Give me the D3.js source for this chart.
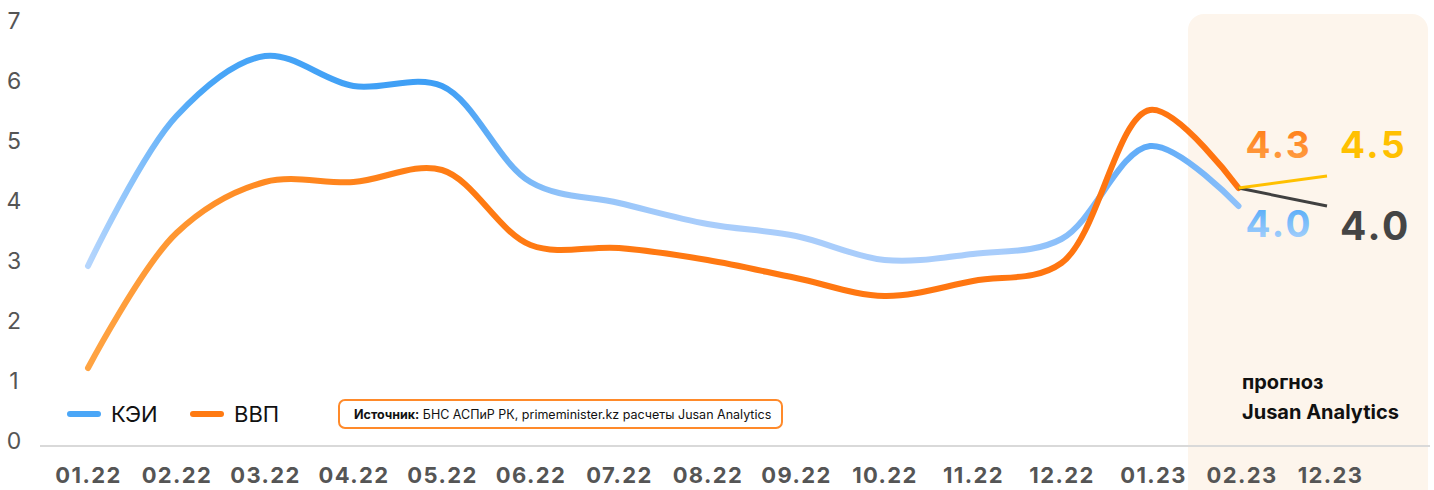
<!DOCTYPE html>
<html>
<head>
<meta charset="utf-8">
<script src="https://cdn.jsdelivr.net/npm/d3@7"></script>
<style>
  body { margin: 0; background: #fff; }
  svg { display: block; font-family: Inter, "Noto Sans", sans-serif; }
</style>
</head>
<body>
<svg id="chart" width="1434" height="490"></svg>
<script>
const months = ["01.22","02.22","03.22","04.22","05.22","06.22","07.22","08.22","09.22","10.22","11.22","12.22","01.23","02.23","12.23"];
const kei = [3.0, 5.5, 6.5, 6.0, 6.0, 4.4, 4.05, 3.7, 3.5, 3.1, 3.2, 3.45, 5.0, 4.0];
const gdp = [1.3, 3.55, 4.4, 4.4, 4.6, 3.35, 3.3, 3.1, 2.8, 2.5, 2.75, 3.05, 5.6, 4.3];
const forecastUp = [4.3, 4.5];   // 02.23 -> 12.23
const forecastDown = [4.3, 4.0];
const yTicks = [0, 1, 2, 3, 4, 5, 6, 7];

const width = 1434, height = 490;
const svg = d3.select("#chart");

const x = d3.scalePoint().domain(months).range([88, 1327]);
const y = d3.scaleLinear().domain([0, 7]).range([446, 26]);

const defs = svg.append("defs");
function grad(id, stops) {
  const g = defs.append("linearGradient").attr("id", id)
    .attr("gradientUnits", "userSpaceOnUse")
    .attr("x1", 88).attr("x2", 1238).attr("y1", 0).attr("y2", 0);
  stops.forEach(s => g.append("stop").attr("offset", (s[0] - 88) / 1150).attr("stop-color", s[1]));
}
grad("blueGrad", [[88, "#b6d6fd"], [200, "#4aa6f7"], [440, "#3d9ef5"], [560, "#90c2f9"], [700, "#a9cdfb"], [1000, "#a9cdfb"], [1150, "#5caaf8"], [1238, "#8ec1fa"]]);
grad("orangeGrad", [[88, "#ffa443"], [260, "#ff8a22"], [480, "#ff7a12"], [1238, "#ff7410"]]);

const lab = defs.append("linearGradient").attr("id", "labOrange").attr("x1", 0).attr("x2", 0).attr("y1", 0).attr("y2", 1);
lab.append("stop").attr("offset", 0).attr("stop-color", "#ff7a12");
lab.append("stop").attr("offset", 1).attr("stop-color", "#ffa24a");
const labB = defs.append("linearGradient").attr("id", "labBlue").attr("x1", 0).attr("x2", 0).attr("y1", 0).attr("y2", 1);
labB.append("stop").attr("offset", 0).attr("stop-color", "#4aa6f7");
labB.append("stop").attr("offset", 1).attr("stop-color", "#b3d6fd");

// forecast panel
svg.append("rect")
  .attr("x", 1188).attr("y", 14).attr("width", 240).attr("height", 500)
  .attr("rx", 16).attr("fill", "#fdf5ec");

// baseline
svg.append("line")
  .attr("x1", 40).attr("x2", 1430).attr("y1", y(0)).attr("y2", y(0))
  .attr("stroke", "#d9d9d9").attr("stroke-width", 2);

// y axis
const yAxis = svg.append("g").attr("transform", "translate(14,0)")
  .call(d3.axisLeft(y).tickValues(yTicks).tickSize(0).tickPadding(0).tickFormat(d3.format("d")));
yAxis.select(".domain").remove();
yAxis.selectAll("text").attr("text-anchor", "middle").attr("dy", "0.1em")
  .attr("font-size", 23).attr("fill", "#555").attr("font-family", "Inter, sans-serif");

// x axis
const xAxis = svg.append("g").attr("transform", `translate(0,${y(0)})`)
  .call(d3.axisBottom(x).tickSize(0).tickPadding(21));
xAxis.select(".domain").remove();
xAxis.selectAll("text").attr("font-size", 22).attr("font-weight", 700).attr("letter-spacing", 1.4)
  .attr("fill", "#555").attr("font-family", "Inter, sans-serif").attr("dx", (d, i) => i >= 12 ? 3 : 0);

const line = d3.line()
  .x((d, i) => x(months[i]))
  .y(d => y(d))
  .curve(d3.curveCatmullRom.alpha(0.5));

svg.append("path").datum(kei).attr("d", line)
  .attr("fill", "none").attr("stroke", "url(#blueGrad)").attr("stroke-width", 6)
  .attr("stroke-linecap", "round");
svg.append("path").datum(gdp).attr("d", line)
  .attr("fill", "none").attr("stroke", "url(#orangeGrad)").attr("stroke-width", 6)
  .attr("stroke-linecap", "round");

const fline = d3.line().x((d, i) => x(months[13 + i])).y(d => y(d));
svg.append("path").datum(forecastDown).attr("d", fline)
  .attr("fill", "none").attr("stroke", "#404040").attr("stroke-width", 3);
svg.append("path").datum(forecastUp).attr("d", fline)
  .attr("fill", "none").attr("stroke", "#ffc000").attr("stroke-width", 3);

// value labels
const fmt = d3.format(".1f");
const labels = [
  { v: gdp[13], x: x("02.23") + 7, y: 158, fill: "url(#labOrange)", size: 37 },
  { v: forecastUp[1], x: x("12.23") + 13, y: 158, fill: "#ffc000", size: 37 },
  { v: kei[13], x: x("02.23") + 7, y: 237, fill: "url(#labBlue)", size: 37 },
  { v: forecastDown[1], x: x("12.23") + 13, y: 240, fill: "#454545", size: 39 }
];
svg.selectAll("text.val").data(labels).join("text").attr("class", "val")
  .attr("x", d => d.x).attr("y", d => d.y)
  .attr("font-size", d => d.size).attr("font-weight", 700).attr("letter-spacing", 2.5)
  .attr("fill", d => d.fill).text(d => fmt(d.v));

svg.append("text").attr("x", 1242).attr("y", 389)
  .attr("font-size", 20).attr("font-weight", 700).attr("fill", "#111").text("прогноз");
svg.append("text").attr("x", 1242).attr("y", 419)
  .attr("font-size", 20).attr("font-weight", 700).attr("fill", "#111").text("Jusan Analytics");

// legend
const legend = [
  { name: "КЭИ", color: "#4aa6f7", x: 70 },
  { name: "ВВП", color: "#ff7a12", x: 193 }
];
const lg = svg.selectAll("g.leg").data(legend).join("g").attr("class", "leg")
  .attr("transform", d => `translate(${d.x},414)`);
lg.append("line").attr("x1", 0).attr("x2", 28).attr("stroke", d => d.color)
  .attr("stroke-width", 6).attr("stroke-linecap", "round");
lg.append("text").attr("x", 41).attr("dy", "0.36em").attr("font-size", 22)
  .attr("fill", "#111").text(d => d.name);

// source box
svg.append("rect").attr("x", 339).attr("y", 400).attr("width", 443).attr("height", 28)
  .attr("rx", 6).attr("fill", "#fff").attr("stroke", "#ff8a2a").attr("stroke-width", 2);
const src = svg.append("text").attr("x", 354).attr("y", 419).attr("font-size", 12.5).attr("fill", "#111");
src.append("tspan").attr("font-weight", 700).text("Источник:");
src.append("tspan").text(" БНС АСПиР РК, primeminister.kz расчеты Jusan Analytics");
</script>
</body>
</html>
